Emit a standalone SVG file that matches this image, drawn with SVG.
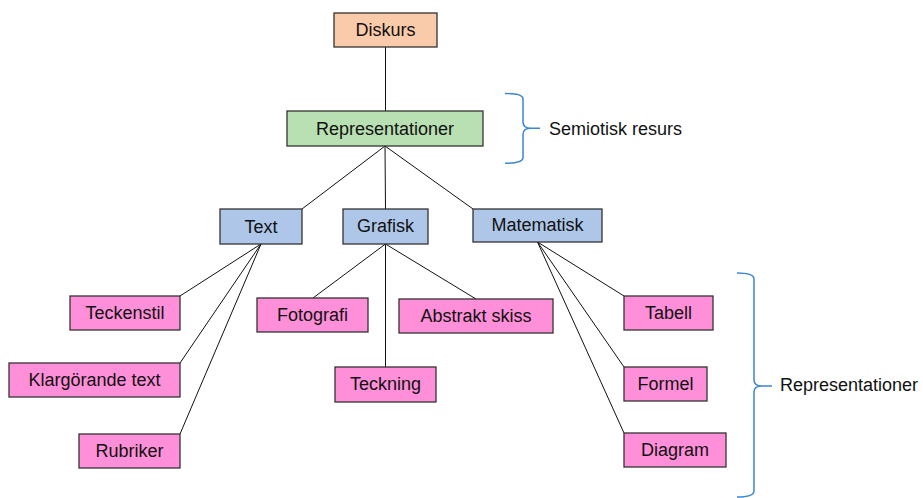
<svg xmlns="http://www.w3.org/2000/svg" width="923" height="498" viewBox="0 0 923 498">
<style>
.box{stroke:#333;stroke-width:1.3}
.peach{fill:#F9CBAA}
.green{fill:#B9E0B2}
.blue{fill:#AEC7E8}
.pink{fill:#FF8FD9}
text{font-family:"Liberation Sans",Arial,sans-serif;font-size:18px;fill:#111;text-anchor:middle;dominant-baseline:central}
.lbl{text-anchor:start}
#connectors line{stroke:#111;stroke-width:1}
.brace{fill:none;stroke:#3C84D4;stroke-width:1.5}
</style>
<rect width="923" height="498" fill="#fff"/>
<g id="connectors">
<line x1="385.5" y1="47" x2="385.5" y2="111"/>
<line x1="385" y1="146" x2="302" y2="209"/>
<line x1="385" y1="146" x2="385.5" y2="209"/>
<line x1="385" y1="146" x2="473" y2="209"/>
<line x1="261" y1="244" x2="180" y2="296"/>
<line x1="261" y1="244" x2="180" y2="363"/>
<line x1="261" y1="244" x2="180" y2="434"/>
<line x1="385.5" y1="244" x2="313" y2="298"/>
<line x1="385.5" y1="244" x2="385.5" y2="367"/>
<line x1="385.5" y1="244" x2="476" y2="299"/>
<line x1="537.5" y1="242" x2="624" y2="296"/>
<line x1="537.5" y1="242" x2="624" y2="367"/>
<line x1="537.5" y1="242" x2="624" y2="433"/>
</g>
<g id="diskurs"><rect class="box peach" x="334" y="13" width="103" height="34"/><text x="385.5" y="30">Diskurs</text></g>
<g id="representationer"><rect class="box green" x="287" y="111" width="196" height="35"/><text x="385" y="128.5">Representationer</text></g>
<g id="text"><rect class="box blue" x="220" y="209" width="82" height="35"/><text x="261" y="227">Text</text></g>
<g id="grafisk"><rect class="box blue" x="343" y="209" width="85" height="35"/><text x="385.5" y="225.5">Grafisk</text></g>
<g id="matematisk"><rect class="box blue" x="473" y="209" width="129" height="33"/><text x="537.5" y="225">Matematisk</text></g>
<g id="teckenstil"><rect class="box pink" x="70" y="296" width="110" height="34"/><text x="125" y="313">Teckenstil</text></g>
<g id="klargorande"><rect class="box pink" x="9" y="363" width="171" height="34"/><text x="94.5" y="380">Klargörande text</text></g>
<g id="rubriker"><rect class="box pink" x="79" y="434" width="101" height="34"/><text x="129.5" y="451">Rubriker</text></g>
<g id="fotografi"><rect class="box pink" x="257" y="298" width="111" height="34"/><text x="312.5" y="315">Fotografi</text></g>
<g id="teckning"><rect class="box pink" x="335" y="367" width="101" height="35"/><text x="385.5" y="384">Teckning</text></g>
<g id="abstrakt"><rect class="box pink" x="399" y="299" width="154" height="34"/><text x="476" y="315.5">Abstrakt skiss</text></g>
<g id="tabell"><rect class="box pink" x="624" y="296" width="89" height="34"/><text x="668.5" y="312.5">Tabell</text></g>
<g id="formel"><rect class="box pink" x="624" y="367" width="83" height="34"/><text x="665.5" y="383.5">Formel</text></g>
<g id="diagram"><rect class="box pink" x="624" y="433" width="102" height="34"/><text x="675" y="449.5">Diagram</text></g>
<g id="brace-semiotisk">
<path class="brace" d="M505,93.5 Q523,93.5 523,99 L523,122 Q523,128.3 531,128.3 Q523,128.3 523,134.5 L523,157.5 Q523,163.3 505,163.3 M531,128.3 L540,128.3"/>
<text class="lbl" x="549" y="128.5">Semiotisk resurs</text>
</g>
<g id="brace-representationer">
<path class="brace" d="M737,273 Q754,273 754,279 L754,380 Q754,386 762,386 Q754,386 754,392 L754,491 Q754,497 737,497 M762,386 L772,386"/>
<text class="lbl" x="780" y="385">Representationer</text>
</g>
</svg>
